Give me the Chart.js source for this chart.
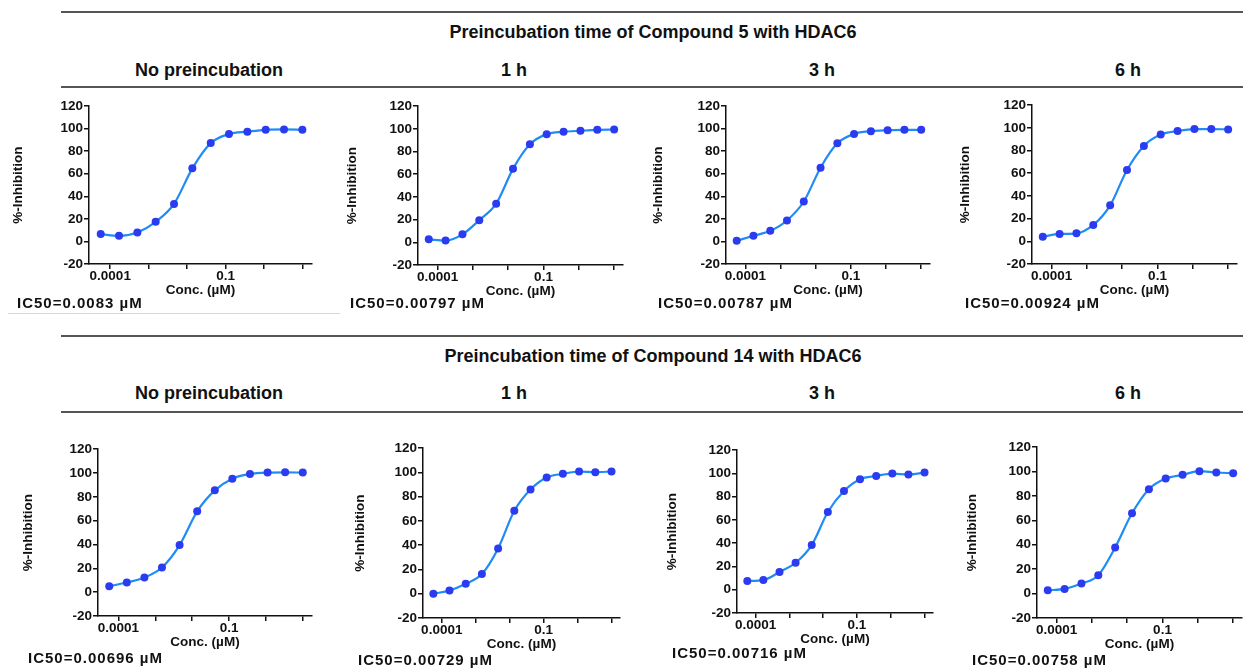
<!DOCTYPE html>
<html>
<head>
<meta charset="utf-8">
<title>HDAC6 preincubation</title>
<script src="https://cdn.jsdelivr.net/npm/chart.js@4.4.0/dist/chart.umd.min.js"></script>
<style>
    body {
        margin: 0;
        width: 1243px;
        height: 668px;
        overflow: hidden;
        position: relative;
        background: #fff;
        font-family: 'Liberation Sans', Arial, sans-serif;
        color: #111;
    }
    .rule {
        position: absolute;
        left: 61px;
        width: 1182px;
        height: 2px;
        background: #555;
    }
    .thin {
        position: absolute;
        height: 1px;
        background: #d8d8d8;
    }
    .head {
        position: absolute;
        width: 600px;
        margin-left: -300px;
        text-align: center;
        font-weight: bold;
        font-size: 18px;
        line-height: 22px;
    }
    .ic50 {
        position: absolute;
        font-weight: bold;
        font-size: 15px;
        line-height: 18px;
        letter-spacing: 1px;
        white-space: nowrap;
    }
    canvas {
        position: absolute;
    }
</style>
</head>
<body>
<script>
// concentrations (uM), 3-fold dilution series
const concentrations = [0.0000565, 0.000169, 0.000508, 0.00152, 0.00457, 0.0137, 0.0412, 0.123, 0.370, 1.11, 3.33, 10];

// %-inhibition, compound 5
const cpd5None = [6.5, 5, 8, 17.4, 33.3, 64.8, 87.2, 95.2, 97.3, 99, 99.3, 99];
const cpd5H1 = [2.6, 1.5, 7, 19.5, 34, 64.7, 86.3, 95.3, 97.4, 98.3, 99.1, 99.4];
const cpd5H3 = [0.6, 5, 9.4, 18.6, 35.4, 65.4, 87, 95.3, 97.8, 98.6, 99, 99];
const cpd5H6 = [4.1, 6.5, 7, 14.4, 31.7, 62.8, 84, 94, 97.2, 98.9, 98.9, 98.6];

// %-inhibition, compound 14
const cpd14None = [5, 8.1, 12.3, 20.7, 39.5, 67.8, 85.4, 95.2, 99.1, 100.3, 100.5, 100.3];
const cpd14H1 = [0, 2.7, 8.2, 16.2, 37.3, 68.3, 85.9, 95.8, 98.8, 100.7, 100.2, 100.7];
const cpd14H3 = [7.5, 8.3, 15.2, 23.2, 38.4, 66.8, 84.9, 95, 97.8, 99.8, 99, 100.7];
const cpd14H6 = [2.7, 3.8, 8.2, 15, 37.8, 65.8, 85.5, 94.2, 97.3, 100.3, 99.2, 98.6];

const ic50Cpd5 = ['0.0083', '0.00797', '0.00787', '0.00924'];
const ic50Cpd14 = ['0.00696', '0.00729', '0.00716', '0.00758'];

const timeLabels = ['No preincubation', '1 h', '3 h', '6 h'];
const groupTitles = ['Preincubation time of Compound 5 with HDAC6', 'Preincubation time of Compound 14 with HDAC6'];

const xTickValues = [0.0001, 0.001, 0.01, 0.1, 1, 10];
const xTickLabels = ['0.0001', '', '', '0.1', '', ''];
const xMin = 0.000028, xMax = 17.8;
const yMin = -20, yMax = 120, yStep = 20;

Chart.defaults.font.family = "'Liberation Sans', Arial, sans-serif";
Chart.defaults.color = '#111';

// header blocks: rules, group title, time labels
const groups = [
    { rules: [12, 87], titleY: 32, labelY: 70 },
    { rules: [336, 412], titleY: 356, labelY: 393 }
];
const labelCenters = [209, 514, 822, 1128];

groups.forEach((g, gi) => {
    g.rules.forEach(y => {
        let r = document.createElement('div');
        r.className = 'rule';
        r.style.top = (y - 1) + 'px';
        document.body.appendChild(r);
    });
    let t = document.createElement('div');
    t.className = 'head';
    t.style.left = '653px';
    t.style.top = (g.titleY - 11) + 'px';
    t.textContent = groupTitles[gi];
    document.body.appendChild(t);
    timeLabels.forEach((txt, i) => {
        let l = document.createElement('div');
        l.className = 'head';
        l.style.left = labelCenters[i] + 'px';
        l.style.top = (g.labelY - 11) + 'px';
        l.textContent = txt;
        document.body.appendChild(l);
    });
});

let thin = document.createElement('div');
thin.className = 'thin';
thin.style.left = '8px';
thin.style.top = '313px';
thin.style.width = '332px';
document.body.appendChild(thin);

// plot boxes: axis corner positions, y-title centre, IC50 text position
const panels = [
    { values: cpd5None, ic50: ic50Cpd5[0], left: 89, right: 312, top: 106, bottom: 264, titleX: 18, icX: 17, icY: 303 },
    { values: cpd5H1, ic50: ic50Cpd5[1], left: 418, right: 623, top: 106, bottom: 265, titleX: 352, icX: 350, icY: 303 },
    { values: cpd5H3, ic50: ic50Cpd5[2], left: 726, right: 930, top: 106, bottom: 264, titleX: 658, icX: 658, icY: 303 },
    { values: cpd5H6, ic50: ic50Cpd5[3], left: 1032, right: 1237, top: 105, bottom: 264, titleX: 965, icX: 965, icY: 303 },
    { values: cpd14None, ic50: ic50Cpd14[0], left: 98, right: 312, top: 449, bottom: 616, titleX: 28, icX: 28, icY: 658 },
    { values: cpd14H1, ic50: ic50Cpd14[1], left: 423, right: 620, top: 448, bottom: 618, titleX: 360, icX: 358, icY: 660 },
    { values: cpd14H3, ic50: ic50Cpd14[2], left: 737, right: 933, top: 450, bottom: 613, titleX: 672, icX: 672, icY: 653 },
    { values: cpd14H6, ic50: ic50Cpd14[3], left: 1037, right: 1242, top: 447, bottom: 618, titleX: 972, icX: 972, icY: 660 }
];

const padTop = 9, padRight = 5, xAxisHeight = 34;
const tickSize = 13.5, titleSize = 13.5;

panels.forEach(p => {
    let canvasLeft = Math.round(p.titleX - titleSize * 0.6);
    let yAxisWidth = p.left - canvasLeft;
    let w = p.right - canvasLeft + padRight;
    let h = p.bottom - p.top + padTop + xAxisHeight;

    let canvas = document.createElement('canvas');
    canvas.width = w;
    canvas.height = h;
    canvas.style.left = canvasLeft + 'px';
    canvas.style.top = (p.top - padTop) + 'px';
    document.body.appendChild(canvas);

    let pts = concentrations.map((c, i) => ({ x: c, y: p.values[i] }));

    new Chart(canvas.getContext('2d'), {
        type: 'scatter',
        data: {
            datasets: [{
                data: pts,
                showLine: false,
                pointRadius: 4,
                pointBackgroundColor: '#2b3cf0',
                pointBorderWidth: 0,
                order: 0
            }, {
                data: pts,
                showLine: true,
                pointRadius: 0,
                borderColor: '#1f8cf5',
                borderWidth: 2.2,
                cubicInterpolationMode: 'monotone',
                order: 1
            }]
        },
        options: {
            responsive: false,
            animation: false,
            events: [],
            layout: { padding: { top: padTop, right: padRight, left: 0, bottom: 0 } },
            plugins: {
                legend: { display: false },
                tooltip: { enabled: false }
            },
            scales: {
                x: {
                    type: 'logarithmic',
                    min: xMin,
                    max: xMax,
                    afterBuildTicks: scale => {
                        scale.ticks = xTickValues.map(v => ({ value: v }));
                    },
                    afterFit: scale => { scale.height = xAxisHeight; },
                    border: { display: true, color: '#111', width: 1.5 },
                    grid: { drawOnChartArea: false, drawTicks: true, tickLength: 5, tickColor: '#111', lineWidth: 1.5 },
                    ticks: {
                        autoSkip: false,
                        maxRotation: 0,
                        padding: -1,
                        font: { size: tickSize, weight: 'bold' },
                        callback: (val, i) => xTickLabels[i]
                    },
                    title: {
                        display: true,
                        text: 'Conc. (µM)',
                        padding: 0,
                        font: { size: titleSize, weight: 'bold' }
                    }
                },
                y: {
                    min: yMin,
                    max: yMax,
                    afterFit: scale => { scale.width = yAxisWidth; },
                    border: { display: true, color: '#111', width: 1.5 },
                    grid: { drawOnChartArea: false, drawTicks: true, tickLength: 5, tickColor: '#111', lineWidth: 1.5 },
                    ticks: {
                        stepSize: yStep,
                        padding: 1,
                        font: { size: tickSize, weight: 'bold' }
                    },
                    title: {
                        display: true,
                        text: '%-Inhibition',
                        padding: 0,
                        font: { size: titleSize, weight: 'bold' }
                    }
                }
            }
        }
    });

    let lab = document.createElement('div');
    lab.className = 'ic50';
    lab.style.left = p.icX + 'px';
    lab.style.top = (p.icY - 9) + 'px';
    lab.textContent = 'IC50=' + p.ic50 + ' µM';
    document.body.appendChild(lab);
});
</script>
</body>
</html>
